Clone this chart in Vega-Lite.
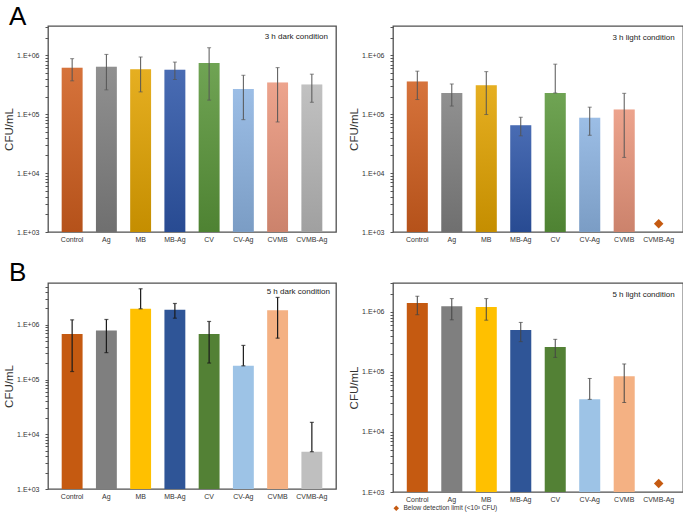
{
  "$schema": "https://vega.github.io/schema/vega-lite/v6.json",
  "padding": {"left": 2, "top": 3, "right": 0, "bottom": 0},
  "background": "white",
  "resolve": {"scale": {"color": "independent"}},
  "config": {
    "font": "Liberation Sans",
    "view": {"stroke": "#505050", "strokeWidth": 1.3},
    "axisX": {"title": null, "labelAngle": 0, "labelFontSize": 7, "labelColor": "#333", "ticks": false, "domain": false, "labelPadding": 3, "grid": false},
    "axisY": {"titleFontSize": 11.5, "titleFontWeight": "normal", "titleColor": "#333", "titlePadding": 2, "labelOverlap": false, "labelFontSize": 7, "labelColor": "#333", "tickSize": 3, "tickColor": "#555", "labelPadding": 6, "domain": false, "grid": false}
  },
  "datasets": {
    "d3dark": [
      {"group": "Control", "value": 620000, "lo": 370000, "hi": 880000},
      {"group": "Ag", "value": 640000, "lo": 260000, "hi": 1040000},
      {"group": "MB", "value": 580000, "lo": 240000, "hi": 940000},
      {"group": "MB-Ag", "value": 570000, "lo": 390000, "hi": 770000},
      {"group": "CV", "value": 740000, "lo": 174000, "hi": 1350000},
      {"group": "CV-Ag", "value": 270000, "lo": 81000, "hi": 460000},
      {"group": "CVMB", "value": 345000, "lo": 74000, "hi": 620000},
      {"group": "CVMB-Ag", "value": 320000, "lo": 160000, "hi": 480000}
    ],
    "d3light": [
      {"group": "Control", "value": 360000, "lo": 178000, "hi": 540000},
      {"group": "Ag", "value": 230000, "lo": 138000, "hi": 327000},
      {"group": "MB", "value": 310000, "lo": 99000, "hi": 530000},
      {"group": "MB-Ag", "value": 65000, "lo": 43000, "hi": 89000},
      {"group": "CV", "value": 230000, "lo": 230000, "hi": 710000},
      {"group": "CV-Ag", "value": 87000, "lo": 44000, "hi": 132000},
      {"group": "CVMB", "value": 120000, "lo": 18500, "hi": 227000},
      {"group": "CVMB-Ag", "bdl": 1380, "note": "Below detection limit (<10³ CFU)"}
    ],
    "d5dark": [
      {"group": "Control", "value": 680000, "lo": 140000, "hi": 1230000},
      {"group": "Ag", "value": 790000, "lo": 310000, "hi": 1250000},
      {"group": "MB", "value": 1960000, "lo": 1960000, "hi": 4550000},
      {"group": "MB-Ag", "value": 1880000, "lo": 1320000, "hi": 2450000},
      {"group": "CV", "value": 680000, "lo": 200000, "hi": 1150000},
      {"group": "CV-Ag", "value": 178000, "lo": 178000, "hi": 420000},
      {"group": "CVMB", "value": 1850000, "lo": 570000, "hi": 3160000},
      {"group": "CVMB-Ag", "value": 4800, "lo": 4800, "hi": 16500}
    ],
    "d5light": [
      {"group": "Control", "value": 1410000, "lo": 900000, "hi": 1830000},
      {"group": "Ag", "value": 1240000, "lo": 740000, "hi": 1670000},
      {"group": "MB", "value": 1210000, "lo": 730000, "hi": 1670000},
      {"group": "MB-Ag", "value": 500000, "lo": 320000, "hi": 670000},
      {"group": "CV", "value": 260000, "lo": 175000, "hi": 350000},
      {"group": "CV-Ag", "value": 35000, "lo": 35000, "hi": 78000},
      {"group": "CVMB", "value": 85000, "lo": 31000, "hi": 136000},
      {"group": "CVMB-Ag", "bdl": 1380, "note": "Below detection limit (<10³ CFU)"}
    ]
  },
  "vconcat": [
    {
      "title": {"text": "A", "anchor": "start", "frame": "bounds", "fontSize": 26, "fontWeight": "normal", "font": "Liberation Sans", "color": "#000", "offset": -7, "dx": 6},
      "spacing": 10,
      "resolve": {"scale": {"color": "independent"}},
      "hconcat": [
        {
          "width": 288, "height": 206,
          "data": {"name": "d3dark"},
          "encoding": {
            "x": {"field": "group", "type": "nominal", "sort": null, "scale": {"domain": ["Control","Ag","MB","MB-Ag","CV","CV-Ag","CVMB","CVMB-Ag"], "paddingInner": 0.39, "paddingOuter": 0.4}}
          },
          "layer": [
            {
              "transform": [{"filter": "datum.value > 0"}],
              "mark": {"type": "bar"},
              "encoding": {
                "y": {"field": "value", "type": "quantitative", "title": "CFU/mL", "scale": {"type": "log", "domain": [1000, 3160000], "nice": false},
                      "axis": {"values": [1000,2000,3000,4000,5000,6000,7000,8000,9000,10000,20000,30000,40000,50000,60000,70000,80000,90000,100000,200000,300000,400000,500000,600000,700000,800000,900000,1000000,2000000,3000000],
                               "labelExpr": "datum.value == 1000 ? '1.E+03' : datum.value == 10000 ? '1.E+04' : datum.value == 100000 ? '1.E+05' : datum.value == 1000000 ? '1.E+06' : ''"}},
                "y2": {"datum": 1000},
                "color": {"field": "group", "type": "nominal", "legend": null, "scale": {"domain": ["Control","Ag","MB","MB-Ag","CV","CV-Ag","CVMB","CVMB-Ag"], "range": ["#D05E1E","#808080","#E2A300","#2E56A8","#5A963A","#8DB4E2","#EA967C","#B8B8B8"]}}
              }
            },
            {
              "transform": [{"filter": "datum.value > 0"}],
              "mark": {"type": "bar", "color": {"gradient": "linear", "x1": 0, "y1": 0, "x2": 0, "y2": 1, "stops": [{"offset": 0, "color": "#ffffff"}, {"offset": 1, "color": "#000000"}]}, "opacity": 0.13},
              "encoding": {
                "y": {"field": "value", "type": "quantitative", "title": "CFU/mL"},
                "y2": {"datum": 1000}
              }
            },
            {
              "transform": [{"filter": "datum.lo > 0"}],
              "mark": {"type": "errorbar", "ticks": {"size": 4}, "color": "#555", "thickness": 1},
              "encoding": {
                "y": {"field": "lo", "type": "quantitative", "title": "CFU/mL"},
                "y2": {"field": "hi"}
              }
            },
            {
              "data": {"values": [{"label": "3 h dark condition"}]},
              "mark": {"type": "text", "align": "right", "baseline": "middle", "fontSize": 8, "dx": 16, "color": "#222"},
              "encoding": {
                "x": {"datum": "CVMB-Ag", "type": "nominal"},
                "y": {"datum": 2050000, "type": "quantitative", "title": "CFU/mL"},
                "text": {"field": "label"}
              }
            }
          ]
        },
        {
          "width": 290, "height": 206,
          "data": {"name": "d3light"},
          "resolve": {"scale": {"color": "independent"}},
          "encoding": {
            "x": {"field": "group", "type": "nominal", "sort": null, "scale": {"domain": ["Control","Ag","MB","MB-Ag","CV","CV-Ag","CVMB","CVMB-Ag"], "paddingInner": 0.39, "paddingOuter": 0.4}}
          },
          "layer": [
            {
              "transform": [{"filter": "datum.value > 0"}],
              "mark": {"type": "bar"},
              "encoding": {
                "y": {"field": "value", "type": "quantitative", "title": "CFU/mL", "scale": {"type": "log", "domain": [1000, 3160000], "nice": false},
                      "axis": {"values": [1000,2000,3000,4000,5000,6000,7000,8000,9000,10000,20000,30000,40000,50000,60000,70000,80000,90000,100000,200000,300000,400000,500000,600000,700000,800000,900000,1000000,2000000,3000000],
                               "labelExpr": "datum.value == 1000 ? '1.E+03' : datum.value == 10000 ? '1.E+04' : datum.value == 100000 ? '1.E+05' : datum.value == 1000000 ? '1.E+06' : ''"}},
                "y2": {"datum": 1000},
                "color": {"field": "group", "type": "nominal", "legend": null, "scale": {"domain": ["Control","Ag","MB","MB-Ag","CV","CV-Ag","CVMB","CVMB-Ag"], "range": ["#D05E1E","#808080","#E2A300","#2E56A8","#5A963A","#8DB4E2","#EA967C","#B8B8B8"]}}
              }
            },
            {
              "transform": [{"filter": "datum.value > 0"}],
              "mark": {"type": "bar", "color": {"gradient": "linear", "x1": 0, "y1": 0, "x2": 0, "y2": 1, "stops": [{"offset": 0, "color": "#ffffff"}, {"offset": 1, "color": "#000000"}]}, "opacity": 0.13},
              "encoding": {
                "y": {"field": "value", "type": "quantitative", "title": "CFU/mL"},
                "y2": {"datum": 1000}
              }
            },
            {
              "transform": [{"filter": "datum.lo > 0"}],
              "mark": {"type": "errorbar", "ticks": {"size": 4}, "color": "#555", "thickness": 1},
              "encoding": {
                "y": {"field": "lo", "type": "quantitative", "title": "CFU/mL"},
                "y2": {"field": "hi"}
              }
            },
            {
              "transform": [{"filter": "datum.bdl > 0"}],
              "mark": {"type": "point", "shape": "diamond", "filled": true, "size": 90, "opacity": 1},
              "encoding": {
                "y": {"field": "bdl", "type": "quantitative", "title": "CFU/mL"},
                "color": {"field": "note", "type": "nominal", "legend": null, "scale": {"range": ["#C55A11"]}}
              }
            },
            {
              "data": {"values": [{"label": "3 h light condition"}]},
              "mark": {"type": "text", "align": "right", "baseline": "middle", "fontSize": 8, "dx": 16, "color": "#222"},
              "encoding": {
                "x": {"datum": "CVMB-Ag", "type": "nominal"},
                "y": {"datum": 2000000, "type": "quantitative", "title": "CFU/mL"},
                "text": {"field": "label"}
              }
            }
          ]
        }
      ]
    },
    {
      "title": {"text": "B", "anchor": "start", "frame": "bounds", "fontSize": 26, "fontWeight": "normal", "font": "Liberation Sans", "color": "#000", "offset": -7, "dx": 6},
      "spacing": 10,
      "resolve": {"scale": {"color": "independent"}},
      "hconcat": [
        {
          "width": 288, "height": 206,
          "data": {"name": "d5dark"},
          "encoding": {
            "x": {"field": "group", "type": "nominal", "sort": null, "scale": {"domain": ["Control","Ag","MB","MB-Ag","CV","CV-Ag","CVMB","CVMB-Ag"], "paddingInner": 0.39, "paddingOuter": 0.4}}
          },
          "layer": [
            {
              "transform": [{"filter": "datum.value > 0"}],
              "mark": {"type": "bar"},
              "encoding": {
                "y": {"field": "value", "type": "quantitative", "title": "CFU/mL", "scale": {"type": "log", "domain": [1000, 5800000], "nice": false},
                      "axis": {"values": [1000,2000,3000,4000,5000,6000,7000,8000,9000,10000,20000,30000,40000,50000,60000,70000,80000,90000,100000,200000,300000,400000,500000,600000,700000,800000,900000,1000000,2000000,3000000,4000000,5000000],
                               "labelExpr": "datum.value == 1000 ? '1.E+03' : datum.value == 10000 ? '1.E+04' : datum.value == 100000 ? '1.E+05' : datum.value == 1000000 ? '1.E+06' : ''"}},
                "y2": {"datum": 1000},
                "color": {"field": "group", "type": "nominal", "legend": null, "scale": {"domain": ["Control","Ag","MB","MB-Ag","CV","CV-Ag","CVMB","CVMB-Ag"], "range": ["#C55A11","#7F7F7F","#FFC000","#2F5597","#538135","#9DC3E6","#F4B183","#BFBFBF"]}}
              }
            },
            {
              "transform": [{"filter": "datum.lo > 0"}],
              "mark": {"type": "errorbar", "ticks": {"size": 4}, "color": "#1a1a1a", "thickness": 1.2},
              "encoding": {
                "y": {"field": "lo", "type": "quantitative", "title": "CFU/mL"},
                "y2": {"field": "hi"}
              }
            },
            {
              "data": {"values": [{"label": "5 h dark condition"}]},
              "mark": {"type": "text", "align": "right", "baseline": "middle", "fontSize": 8, "dx": 18, "color": "#222"},
              "encoding": {
                "x": {"datum": "CVMB-Ag", "type": "nominal"},
                "y": {"datum": 4050000, "type": "quantitative", "title": "CFU/mL"},
                "text": {"field": "label"}
              }
            }
          ]
        },
        {
          "width": 290, "height": 209,
          "data": {"name": "d5light"},
          "resolve": {"scale": {"color": "independent"}},
          "encoding": {
            "x": {"field": "group", "type": "nominal", "sort": null, "scale": {"domain": ["Control","Ag","MB","MB-Ag","CV","CV-Ag","CVMB","CVMB-Ag"], "paddingInner": 0.39, "paddingOuter": 0.4}}
          },
          "layer": [
            {
              "transform": [{"filter": "datum.value > 0"}],
              "mark": {"type": "bar"},
              "encoding": {
                "y": {"field": "value", "type": "quantitative", "title": "CFU/mL", "scale": {"type": "log", "domain": [1000, 3040000], "nice": false},
                      "axis": {"values": [1000,2000,3000,4000,5000,6000,7000,8000,9000,10000,20000,30000,40000,50000,60000,70000,80000,90000,100000,200000,300000,400000,500000,600000,700000,800000,900000,1000000,2000000,3000000],
                               "labelExpr": "datum.value == 1000 ? '1.E+03' : datum.value == 10000 ? '1.E+04' : datum.value == 100000 ? '1.E+05' : datum.value == 1000000 ? '1.E+06' : ''"}},
                "y2": {"datum": 1000},
                "color": {"field": "group", "type": "nominal", "legend": null, "scale": {"domain": ["Control","Ag","MB","MB-Ag","CV","CV-Ag","CVMB","CVMB-Ag"], "range": ["#C55A11","#7F7F7F","#FFC000","#2F5597","#538135","#9DC3E6","#F4B183","#BFBFBF"]}}
              }
            },
            {
              "transform": [{"filter": "datum.lo > 0"}],
              "mark": {"type": "errorbar", "ticks": {"size": 4}, "color": "#444", "thickness": 1},
              "encoding": {
                "y": {"field": "lo", "type": "quantitative", "title": "CFU/mL"},
                "y2": {"field": "hi"}
              }
            },
            {
              "transform": [{"filter": "datum.bdl > 0"}],
              "mark": {"type": "point", "shape": "diamond", "filled": true, "size": 90, "opacity": 1},
              "encoding": {
                "y": {"field": "bdl", "type": "quantitative", "title": "CFU/mL"},
                "color": {"field": "note", "type": "nominal", "scale": {"range": ["#C55A11"]},
                          "legend": {"orient": "bottom", "title": null, "symbolType": "diamond", "symbolSize": 30, "symbolStrokeWidth": 0, "labelFontSize": 6.5, "labelColor": "#333", "padding": 0, "offset": 3, "labelOffset": 4}}
              }
            },
            {
              "data": {"values": [{"label": "5 h light condition"}]},
              "mark": {"type": "text", "align": "right", "baseline": "middle", "fontSize": 8, "dx": 16, "color": "#222"},
              "encoding": {
                "x": {"datum": "CVMB-Ag", "type": "nominal"},
                "y": {"datum": 1900000, "type": "quantitative", "title": "CFU/mL"},
                "text": {"field": "label"}
              }
            }
          ]
        }
      ]
    }
  ],
  "spacing": 16
}
